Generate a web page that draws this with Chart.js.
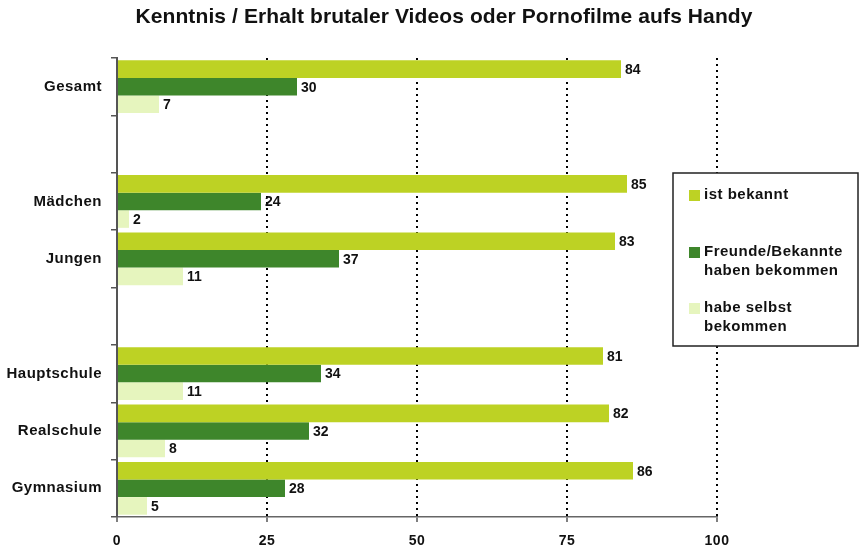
<!DOCTYPE html>
<html>
<head>
<meta charset="utf-8">
<script src="https://cdn.jsdelivr.net/npm/chart.js@4"></script>
<style>
  html, body { margin: 0; padding: 0; background: #fff; }
  #c { display: block; }
</style>
</head>
<body>
<canvas id="c" width="859" height="552"></canvas>
<script>
// ---- data ----
const chartTitle = 'Kenntnis / Erhalt brutaler Videos oder Pornofilme aufs Handy';
const categories = ['Gesamt', ' ', 'Mädchen', 'Jungen', '  ', 'Hauptschule', 'Realschule', 'Gymnasium'];
const seriesNames = ['ist bekannt', 'Freunde/Bekannte haben bekommen', 'habe selbst bekommen'];
const legendLines = [['ist bekannt'], ['Freunde/Bekannte', 'haben bekommen'], ['habe selbst', 'bekommen']];
const istBekannt = [84, null, 85, 83, null, 81, 82, 86];
const freundeBekommen = [30, null, 24, 37, null, 34, 32, 28];
const selbstBekommen = [7, null, 2, 11, null, 11, 8, 5];
const xTicks = [0, 25, 50, 75, 100];

const colors = ['#BDD224', '#3E862B', '#E6F5BE'];
const FONT = "'Liberation Sans', Arial, sans-serif";

const spacingPlugin = {
  id: 'spacing',
  beforeDraw(chart) { chart.ctx.letterSpacing = '0.5px'; }
};

const titlePlugin = {
  id: 'customTitle',
  afterDraw(chart) {
    const ctx = chart.ctx;
    ctx.save();
    ctx.letterSpacing = '0.1px';
    ctx.font = 'bold 21px ' + FONT;
    ctx.fillStyle = '#111';
    ctx.textAlign = 'center';
    ctx.textBaseline = 'middle';
    ctx.fillText(chartTitle, 444, 17);
    ctx.restore();
  }
};

const valueLabels = {
  id: 'valueLabels',
  afterDatasetsDraw(chart) {
    const ctx = chart.ctx;
    ctx.save();
    ctx.letterSpacing = '0px';
    ctx.font = 'bold 14px ' + FONT;
    ctx.fillStyle = '#111';
    ctx.textAlign = 'left';
    ctx.textBaseline = 'middle';
    chart.data.datasets.forEach((ds, i) => {
      const meta = chart.getDatasetMeta(i);
      meta.data.forEach((el, j) => {
        const v = ds.data[j];
        if (v === null || v === undefined) return;
        ctx.fillText(String(v), el.x + 4, el.y + 1);
      });
    });
    ctx.restore();
  }
};

const boxLegend = {
  id: 'boxLegend',
  afterDraw(chart) {
    const ctx = chart.ctx;
    const bx = 673, by = 173, bw = 185, bh = 173;
    ctx.save();
    ctx.letterSpacing = '0.5px';
    ctx.fillStyle = '#fff';
    ctx.fillRect(bx, by, bw, bh);
    ctx.strokeStyle = '#222';
    ctx.lineWidth = 1.5;
    ctx.strokeRect(bx, by, bw, bh);
    const tops = [190, 247, 303];
    ctx.font = 'bold 15px ' + FONT;
    ctx.textAlign = 'left';
    ctx.textBaseline = 'middle';
    chart.data.datasets.forEach((ds, i) => {
      const t = tops[i];
      ctx.fillStyle = ds.backgroundColor;
      ctx.fillRect(689, t, 11, 11);
      ctx.fillStyle = '#111';
      legendLines[i].forEach((line, k) => {
        ctx.fillText(line, 704, t + 5 + k * 19);
      });
    });
    ctx.restore();
  }
};

new Chart(document.getElementById('c'), {
  type: 'bar',
  data: {
    labels: categories,
    datasets: [
      { label: seriesNames[0], data: istBekannt, backgroundColor: colors[0] },
      { label: seriesNames[1], data: freundeBekommen, backgroundColor: colors[1] },
      { label: seriesNames[2], data: selbstBekommen, backgroundColor: colors[2] }
    ]
  },
  options: {
    indexAxis: 'y',
    responsive: false,
    animation: false,
    devicePixelRatio: 1,
    categoryPercentage: 0.92,
    barPercentage: 1.0,
    layout: { padding: { top: 58, right: 142, left: 0, bottom: 0 } },
    plugins: {
      legend: { display: false },
      title: { display: false },
      tooltip: { enabled: false }
    },
    scales: {
      x: {
        min: 0,
        max: 100,
        afterBuildTicks(scale) { scale.ticks = xTicks.map(v => ({ value: v })); },
        afterFit(scale) { scale.height = 35; },
        ticks: {
          font: { family: FONT, size: 14, weight: 'bold' },
          color: '#111',
          padding: 11
        },
        grid: {
          color: ctx => (ctx.tick && ctx.tick.value === 0) ? 'rgba(0,0,0,0)' : '#000',
          lineWidth: 2,
          tickColor: '#555',
          tickWidth: 1.5,
          tickLength: 5,
          tickBorderDash: []
        },
        border: { color: '#666', width: 1.5, dash: [2, 4] }
      },
      y: {
        afterFit(scale) { scale.width = 117; },
        ticks: {
          font: { family: FONT, size: 15, weight: 'bold' },
          color: '#111',
          padding: 9
        },
        grid: {
          offset: true,
          drawOnChartArea: false,
          color: '#555',
          lineWidth: 1.5,
          tickLength: 6
        },
        border: { color: '#555', width: 2 }
      }
    }
  },
  plugins: [spacingPlugin, valueLabels, titlePlugin, boxLegend]
});
</script>
</body>
</html>
